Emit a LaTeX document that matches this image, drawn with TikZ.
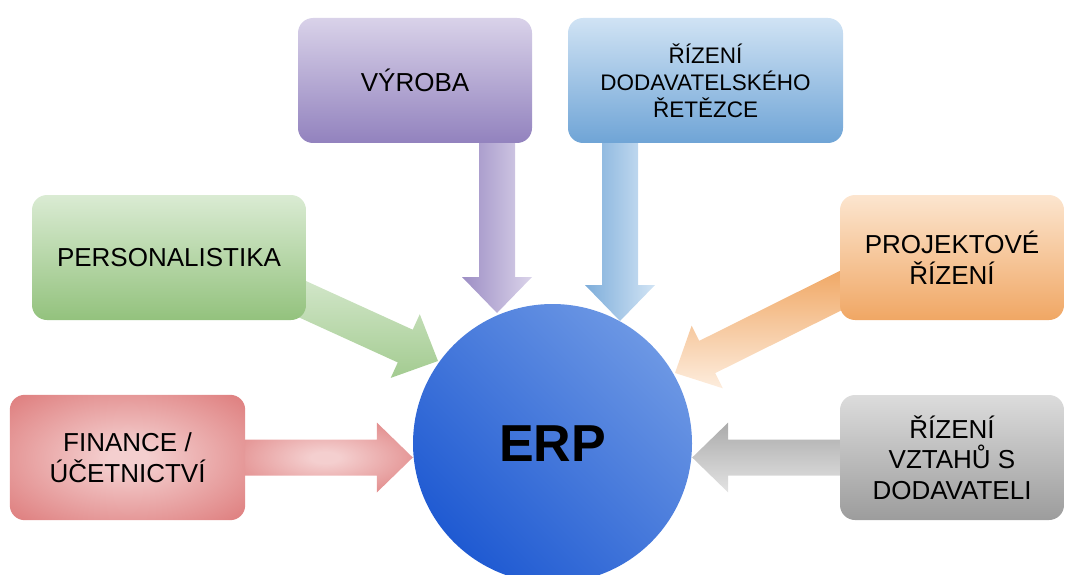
\documentclass[tikz,border=0pt]{standalone}
\usepackage{fontspec}
\setmainfont{Liberation Sans}
\usetikzlibrary{calc}

% palette
\definecolor{finLight}{HTML}{F4CFCF}
\definecolor{finEdge}{HTML}{DC7676}
\definecolor{finDeep}{HTML}{D76262}
\definecolor{perTop}{HTML}{DAEBD3}
\definecolor{perBot}{HTML}{93C27D}
\definecolor{vyrTop}{HTML}{D9D2E9}
\definecolor{vyrBot}{HTML}{9282BE}
\definecolor{dodTop}{HTML}{D0E3F4}
\definecolor{dodBot}{HTML}{6FA4D6}
\definecolor{prjTop}{HTML}{FCE5CF}
\definecolor{prjBot}{HTML}{F0A764}
\definecolor{gryTop}{HTML}{DCDCDC}
\definecolor{gryBot}{HTML}{9C9C9C}
\definecolor{erpDark}{HTML}{1F5AD2}
\definecolor{erpLight}{HTML}{6C97E4}

\pgfdeclareradialshading{finglow}{\pgfpoint{0bp}{0bp}}{%
  color(0bp)=(finLight); color(4bp)=(finLight); color(38bp)=(finEdge); color(72bp)=(finDeep)}

% wide block arrow from a tail point to a tip point
\newcommand\blockarrow[3]{%
  \coordinate (#2-base) at ($(#3)!36pt!(#2)$);
  \path[#1] ($(#2)!18pt!90:(#3)$) -- ($(#2-base)!18pt!90:(#3)$)
    -- ($(#2-base)!35pt!90:(#3)$) -- (#3)
    -- ($(#2-base)!35pt!-90:(#3)$) -- ($(#2-base)!18pt!-90:(#3)$)
    -- ($(#2)!18pt!-90:(#3)$) -- cycle;
}

\tikzset{
  box/.style={rounded corners=15pt, minimum width=#1, minimum height=125pt,
    inner sep=0pt, align=center, text=black,
    font=\fontsize{26}{30.5}\selectfont},
  smallbox/.style={box=#1, font=\fontsize{22.5}{27}\selectfont},
}

\begin{document}
\begin{tikzpicture}[x=1pt, y=-1pt]
\useasboundingbox (0,0) rectangle (1065,575);

% central circle
\node[circle, minimum size=279pt, inner sep=0pt] (erp) at (552.5,443.5) {};

% modules
\node[box=235pt] (fin) at (127.5,457.5) {};
\node[box=274pt] (per) at (169,257.5) {};
\node[box=234pt] (vyr) at (415,80.5) {};
\node[box=275pt] (dod) at (705.5,80.5) {};
\node[box=224pt] (prj) at (952,257.5) {};
\node[box=224pt] (gry) at (952,457.5) {};

% arrow ends
\coordinate (finT) at ($(fin.east)+(-8,0)$);
\coordinate (finH) at (erp.west |- fin.east);
\coordinate (gryT) at ($(gry.west)+(10,0)$);
\coordinate (gryH) at (erp.east |- gry.west);
\coordinate (vyrT) at (497,130);
\coordinate (vyrH) at (497,313);
\coordinate (dodT) at (620,130);
\coordinate (dodH) at (620,321);
\coordinate (perT) at (256,278);
\coordinate (perH) at (438,361);
\coordinate (prjT) at (854,284);
\coordinate (prjH) at (675,373);

% arrows
\blockarrow{shade, shading=finglow}{finT}{finH}
\blockarrow{top color=gryBot!85, bottom color=gryTop!80!white}{gryT}{gryH}
\blockarrow{left color=vyrBot!90, right color=vyrTop!95!white}{vyrT}{vyrH}
\blockarrow{left color=dodBot!90, right color=dodTop!95!white}{dodT}{dodH}
\blockarrow{top color=perTop, bottom color=perBot!85}{perT}{perH}
\blockarrow{top color=prjBot, bottom color=prjTop!70!white}{prjT}{prjH}

% boxes on top of the arrow tails
\path[shade, shading=finglow, rounded corners=15pt]
  (fin.north west) rectangle (fin.south east);
\node[box=235pt] at (fin) {FINANCE /\\ÚČETNICTVÍ};
\node[box=274pt, top color=perTop, bottom color=perBot] at (per) {PERSONALISTIKA};
\node[box=234pt, top color=vyrTop, bottom color=vyrBot] at (vyr) {VÝROBA};
\node[smallbox=275pt, top color=dodTop, bottom color=dodBot] at (dod) {ŘÍZENÍ\\DODAVATELSKÉHO\\ŘETĚZCE};
\node[box=224pt, top color=prjTop, bottom color=prjBot] at (prj) {PROJEKTOVÉ\\ŘÍZENÍ};
\node[box=224pt, top color=gryTop, bottom color=gryBot] at (gry) {ŘÍZENÍ\\VZTAHŮ S\\DODAVATELI};

% ERP hub
\node[circle, minimum size=279pt, inner sep=0pt,
  top color=erpLight, bottom color=erpDark, shading angle=-45,
  font=\fontsize{52}{60}\bfseries] at (erp) {ERP};
\end{tikzpicture}
\end{document}
